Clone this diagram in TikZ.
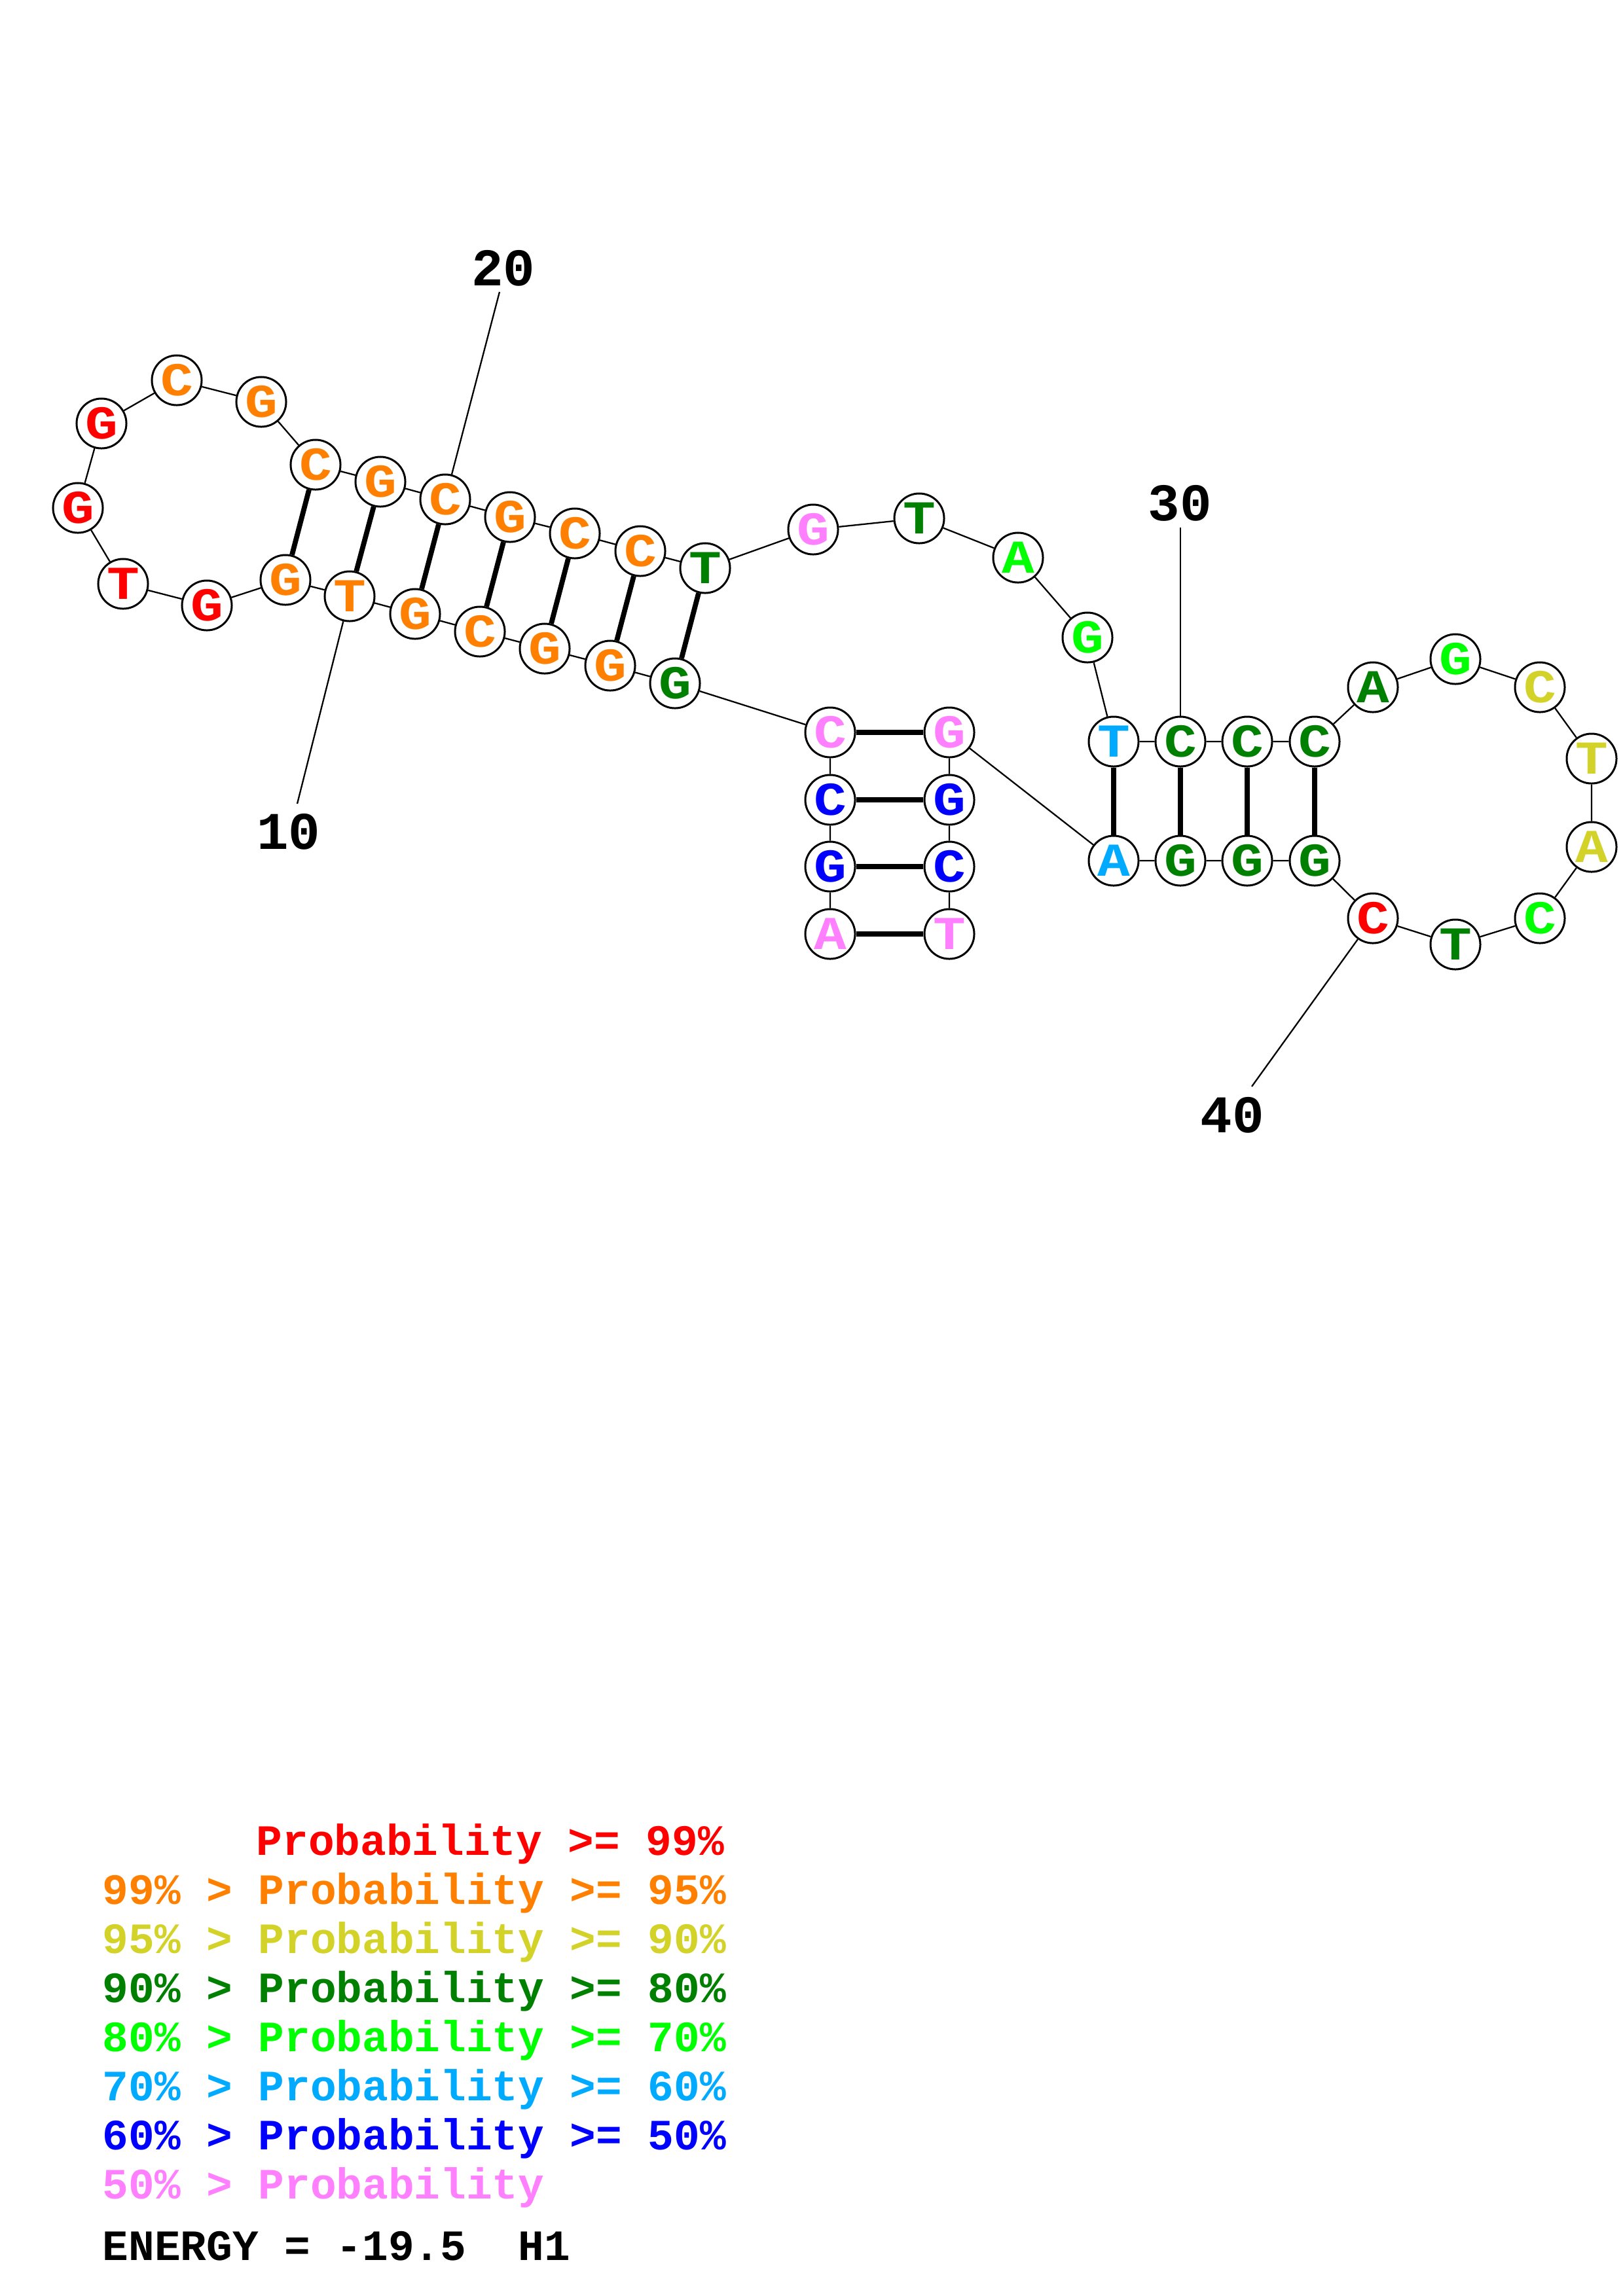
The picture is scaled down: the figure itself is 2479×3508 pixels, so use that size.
\documentclass[tikz,border=0pt]{standalone}
\usepackage{graphicx}
\usepackage{fontspec}
\setmonofont{Liberation Mono}
\usepackage{tikz}
\usetikzlibrary{backgrounds}
\definecolor{pr99}{RGB}{255,0,0}
\definecolor{pr95}{RGB}{255,128,0}
\definecolor{pr90}{RGB}{210,210,40}
\definecolor{pr80}{RGB}{0,128,0}
\definecolor{pr70}{RGB}{0,255,0}
\definecolor{pr60}{RGB}{0,170,255}
\definecolor{pr50}{RGB}{0,0,255}
\definecolor{prlow}{RGB}{255,128,255}
\newcommand{\ntfont}{\fontsize{20.5}{24}\selectfont\ttfamily\bfseries}
\newcommand{\nt}[1]{\scalebox{1.15}[1]{#1}}
\tikzset{
  nuc/.style={circle, draw=black, line width=0.85pt, fill=white, inner sep=0pt, minimum size=0.76cm, font=\ntfont, text=#1},
  bb/.style={line width=0.65pt},
  bond/.style={line width=2.2pt},
  numtick/.style={line width=0.65pt},
  numlabel/.style={inner sep=0pt, font=\fontsize{23}{27}\selectfont\ttfamily\bfseries},
  legline/.style={anchor=base west, inner sep=0pt, font=\fontsize{18.8}{22}\selectfont\ttfamily\bfseries, text=#1}
}

\begin{document}
\begin{tikzpicture}[x=0.01cm,y=-0.01cm]
\useasboundingbox (0,0) rectangle (2479,3508);
% 5' helix
\node[nuc=prlow] (n1) at (1268,1427) {\nt{A}};
\node[nuc=pr50] (n2) at (1268,1324) {\nt{G}};
\node[nuc=pr50] (n3) at (1268,1222) {\nt{C}};
\node[nuc=prlow] (n4) at (1268,1119) {\nt{C}};
% left stem and hairpin
\node[nuc=pr80] (n5) at (1031,1044) {\nt{G}};
\node[nuc=pr95] (n6) at (932,1017) {\nt{G}};
\node[nuc=pr95] (n7) at (832,991) {\nt{G}};
\node[nuc=pr95] (n8) at (733,965) {\nt{C}};
\node[nuc=pr95] (n9) at (634,938) {\nt{G}};
\node[nuc=pr95] (n10) at (534,911) {\nt{T}};
\node[nuc=pr95] (n11) at (436,886) {\nt{G}};
\node[nuc=pr99] (n12) at (316,925) {\nt{G}};
\node[nuc=pr99] (n13) at (188,892) {\nt{T}};
\node[nuc=pr99] (n14) at (119,776) {\nt{G}};
\node[nuc=pr99] (n15) at (155,647) {\nt{G}};
\node[nuc=pr95] (n16) at (270,581) {\nt{C}};
\node[nuc=pr95] (n17) at (399,614) {\nt{G}};
\node[nuc=pr95] (n18) at (482,710) {\nt{C}};
\node[nuc=pr95] (n19) at (581,736) {\nt{G}};
\node[nuc=pr95] (n20) at (680,763) {\nt{C}};
\node[nuc=pr95] (n21) at (779,790) {\nt{G}};
\node[nuc=pr95] (n22) at (878,815) {\nt{C}};
\node[nuc=pr95] (n23) at (978,842) {\nt{C}};
\node[nuc=pr80] (n24) at (1077,868) {\nt{T}};
% joining loop
\node[nuc=prlow] (n25) at (1242,809) {\nt{G}};
\node[nuc=pr80] (n26) at (1404,792) {\nt{T}};
\node[nuc=pr70] (n27) at (1555,852) {\nt{A}};
\node[nuc=pr70] (n28) at (1661,974) {\nt{G}};
% right stem and hairpin
\node[nuc=pr60] (n29) at (1701,1133) {\nt{T}};
\node[nuc=pr80] (n30) at (1803,1133) {\nt{C}};
\node[nuc=pr80] (n31) at (1905,1133) {\nt{C}};
\node[nuc=pr80] (n32) at (2008,1133) {\nt{C}};
\node[nuc=pr80] (n33) at (2097,1050) {\nt{A}};
\node[nuc=pr70] (n34) at (2223,1007) {\nt{G}};
\node[nuc=pr90] (n35) at (2352,1050) {\nt{C}};
\node[nuc=pr90] (n36) at (2431,1159) {\nt{T}};
\node[nuc=pr90] (n37) at (2431,1294) {\nt{A}};
\node[nuc=pr70] (n38) at (2352,1403) {\nt{C}};
\node[nuc=pr80] (n39) at (2223,1443) {\nt{T}};
\node[nuc=pr99] (n40) at (2097,1403) {\nt{C}};
\node[nuc=pr80] (n41) at (2008,1315) {\nt{G}};
\node[nuc=pr80] (n42) at (1905,1315) {\nt{G}};
\node[nuc=pr80] (n43) at (1803,1315) {\nt{G}};
\node[nuc=pr60] (n44) at (1701,1315) {\nt{A}};
% 3' helix
\node[nuc=prlow] (n45) at (1450,1119) {\nt{G}};
\node[nuc=pr50] (n46) at (1450,1222) {\nt{G}};
\node[nuc=pr50] (n47) at (1450,1324) {\nt{C}};
\node[nuc=prlow] (n48) at (1450,1427) {\nt{T}};

\begin{scope}[on background layer]
\draw[bb] (n1) -- (n2) -- (n3) -- (n4) -- (n5) -- (n6) -- (n7) -- (n8) -- (n9) -- (n10) -- (n11) -- (n12)
  -- (n13) -- (n14) -- (n15) -- (n16) -- (n17) -- (n18) -- (n19) -- (n20) -- (n21) -- (n22) -- (n23) -- (n24)
  -- (n25) -- (n26) -- (n27) -- (n28) -- (n29) -- (n30) -- (n31) -- (n32) -- (n33) -- (n34) -- (n35) -- (n36)
  -- (n37) -- (n38) -- (n39) -- (n40) -- (n41) -- (n42) -- (n43) -- (n44) -- (n45) -- (n46) -- (n47) -- (n48);
% base pairs
\draw[bond] (n1) -- (n48);
\draw[bond] (n2) -- (n47);
\draw[bond] (n3) -- (n46);
\draw[bond] (n4) -- (n45);
\draw[bond] (n5) -- (n24);
\draw[bond] (n6) -- (n23);
\draw[bond] (n7) -- (n22);
\draw[bond] (n8) -- (n21);
\draw[bond] (n9) -- (n20);
\draw[bond] (n10) -- (n19);
\draw[bond] (n11) -- (n18);
\draw[bond] (n29) -- (n44);
\draw[bond] (n30) -- (n43);
\draw[bond] (n31) -- (n42);
\draw[bond] (n32) -- (n41);
\end{scope}

% position numbers
\coordinate (t10) at (454,1228);
\coordinate (t20) at (763,446);
\coordinate (t30) at (1803,806);
\coordinate (t40) at (1912,1660);
\draw[numtick] (n10) -- (t10);
\draw[numtick] (n20) -- (t20);
\draw[numtick] (n30) -- (t30);
\draw[numtick] (n40) -- (t40);
\node[numlabel] (l10) at (441,1271) {10};
\node[numlabel] (l20) at (769,410) {20};
\node[numlabel] (l30) at (1802,769) {30};
\node[numlabel] (l40) at (1882,1704) {40};

% legend
\node[legline=pr99] (k1) at (391,2834) {Probability >= 99\%};
\node[legline=pr95] (k2) at (156,2909) {99\% > Probability >= 95\%};
\node[legline=pr90] (k3) at (156,2984) {95\% > Probability >= 90\%};
\node[legline=pr80] (k4) at (156,3059) {90\% > Probability >= 80\%};
\node[legline=pr70] (k5) at (156,3134) {80\% > Probability >= 70\%};
\node[legline=pr60] (k6) at (156,3209) {70\% > Probability >= 60\%};
\node[legline=pr50] (k7) at (156,3284) {60\% > Probability >= 50\%};
\node[legline=prlow] (k8) at (156,3359) {50\% > Probability};
\node[legline=black] (energy) at (156,3453) {ENERGY = -19.5~~H1};
\end{tikzpicture}
\end{document}
